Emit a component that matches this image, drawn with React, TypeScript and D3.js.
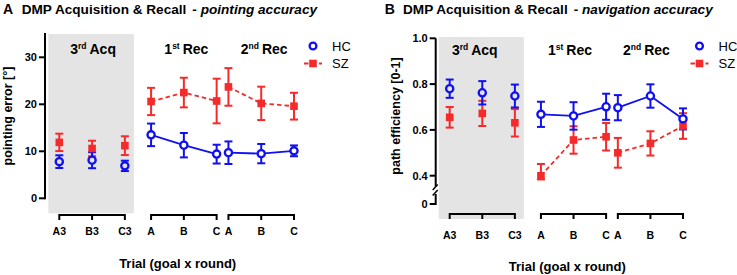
import React from 'react';
import * as d3 from 'd3';

// ---- data ----
const groupNames = ['Acq', 'Rec', 'Rec'];
const groupOrdinals = ['3', '1', '2'];
const groupSuffix = ['rd', 'st', 'nd'];
const trialLabels = ['A3', 'B3', 'C3', 'A', 'B', 'C', 'A', 'B', 'C'];
const trialGroup = [0, 0, 0, 1, 1, 1, 2, 2, 2];

const pointingHC = [7.8, 8.1, 6.9, 13.5, 11.3, 9.4, 9.7, 9.5, 10.1];
const pointingHCErr = [1.35, 1.7, 1.1, 2.4, 2.6, 2.0, 2.4, 2.05, 1.15];
const pointingSZ = [11.9, 10.6, 11.2, 20.6, 22.5, 20.7, 23.7, 20.2, 19.6];
const pointingSZErr = [1.85, 1.65, 2.0, 2.9, 3.15, 4.75, 4.0, 3.55, 2.85];

const navHC = [0.78, 0.762, 0.748, 0.668, 0.661, 0.701, 0.697, 0.748, 0.648];
const navHCErr = [0.04, 0.051, 0.05, 0.055, 0.06, 0.057, 0.055, 0.051, 0.046];
const navSZ = [0.655, 0.672, 0.631, 0.399, 0.556, 0.57, 0.5, 0.541, 0.617];
const navSZErr = [0.045, 0.055, 0.06, 0.052, 0.06, 0.06, 0.065, 0.053, 0.056];

const pointingTicks = [0, 10, 20, 30];
const pointingTickLabels = ['0', '10', '20', '30'];
const navTicks = [0, 0.4, 0.6, 0.8, 1.0];
const navTickLabels = ['0', '0.4', '0.6', '0.8', '1.0'];

// ---- style ----
const BLUE = '#1010f0';
const RED = '#f52a2a';
const GRAY = '#e4e4e4';
const FONT = "'Liberation Sans', Arial, Helvetica, sans-serif";
const groupStart = [0, 2.8, 5.16];

type PanelProps = {
  letter: string;
  letterX: number;
  titleX: number;
  subtitle: string;
  yLabel: string;
  yLabelX: number;
  x0: number;
  x1: number;
  axisX: number;
  y: d3.ScaleLinear<number, number>;
  yTop: number;
  ticks: number[];
  tickLabels: string[];
  hc: number[]; hcErr: number[]; sz: number[]; szErr: number[];
  groupLabelDx: number[];
  groupLabelY: number;
  legendX: number;
  bracketY: number;
  xLabelY: number;
  xTitleY: number;
  broken?: boolean;
};

function Panel(p: PanelProps) {
  const unit = trialLabels.map((_, i) => groupStart[trialGroup[i]] + (i - 3 * trialGroup[i]));
  const x = d3.scaleLinear().domain([0, d3.max(unit) as number]).range([p.x0, p.x1]);
  const xs = unit.map((u) => x(u));
  const y = p.y;
  const bottom = y(0);

  const seg = (vals: number[], g: number) =>
    d3.line<number>().x((_, k) => xs[3 * g + k]).y((v) => y(v))(vals.slice(3 * g, 3 * g + 3)) as string;

  const errBars = (vals: number[], errs: number[], color: string) =>
    vals.map((v, i) => (
      <g key={i} stroke={color} strokeWidth={2}>
        <line x1={xs[i]} x2={xs[i]} y1={y(v - errs[i])} y2={y(v + errs[i])} />
        <line x1={xs[i] - 4} x2={xs[i] + 4} y1={y(v + errs[i])} y2={y(v + errs[i])} />
        <line x1={xs[i] - 4} x2={xs[i] + 4} y1={y(v - errs[i])} y2={y(v - errs[i])} />
      </g>
    ));

  const midX = (p.x0 + p.x1) / 2;

  return (
    <g fontFamily={FONT}>
      {/* title */}
      <text x={p.letterX} y={13.5} fontSize={14} fontWeight="bold">{p.letter}</text>
      <text x={p.titleX} y={13.5} fontSize={13.6} fontWeight="bold">
        DMP Acquisition &amp; Recall
        <tspan dx={6} fontStyle="italic">- {p.subtitle}</tspan>
      </text>

      {/* gray background */}
      <rect x={xs[0] - 11} y={p.yTop} width={xs[2] - xs[0] + 20} height={bottom + 15 - p.yTop} fill={GRAY} />

      {/* y axis */}
      {p.broken ? (
        <g stroke="#000" strokeWidth={2} fill="none">
          <line x1={p.axisX} x2={p.axisX} y1={y(1)} y2={186.5} />
          <line x1={p.axisX} x2={p.axisX} y1={194} y2={bottom + 1} />
          <line x1={p.axisX - 3} x2={p.axisX + 2} y1={190} y2={184.5} strokeWidth={1.5} />
          <line x1={p.axisX - 3} x2={p.axisX + 2} y1={195.5} y2={190} strokeWidth={1.5} />
        </g>
      ) : (
        <line x1={p.axisX} x2={p.axisX} y1={p.yTop - 1} y2={bottom + 1} stroke="#000" strokeWidth={2} />
      )}
      {p.ticks.map((t, i) => (
        <g key={i}>
          <line x1={p.axisX - 6} x2={p.axisX} y1={y(t)} y2={y(t)} stroke="#000" strokeWidth={2} />
          <text x={p.axisX - 8} y={y(t)} dy="0.35em" textAnchor="end" fontSize={11} fontWeight="bold">
            {p.tickLabels[i]}
          </text>
        </g>
      ))}
      <text
        transform={`translate(${p.yLabelX},${116}) rotate(-90)`}
        textAnchor="middle"
        fontSize={12.5}
        fontWeight="bold"
      >
        {p.yLabel}
      </text>

      {/* x brackets */}
      {[0, 1, 2].map((g) => (
        <g key={g} stroke="#000" strokeWidth={2}>
          <line x1={xs[3 * g]} x2={xs[3 * g + 2]} y1={p.bracketY} y2={p.bracketY} />
          {[0, 1, 2].map((k) => (
            <line key={k} x1={xs[3 * g + k]} x2={xs[3 * g + k]} y1={p.bracketY - (k === 1 ? 0 : 1)} y2={p.bracketY + 5} />
          ))}
        </g>
      ))}
      {trialLabels.map((l, i) => (
        <text key={i} x={xs[i]} y={p.xLabelY} dy="0.35em" textAnchor="middle" fontSize={10.5} fontWeight="bold">
          {l}
        </text>
      ))}
      <text x={midX + 1} y={p.xTitleY} textAnchor="middle" fontSize={13} fontWeight="bold">
        Trial (goal x round)
      </text>

      {/* group labels */}
      {[0, 1, 2].map((g) => (
        <text key={g} x={xs[3 * g + 1] + p.groupLabelDx[g]} y={p.groupLabelY} textAnchor="middle" fontSize={14} fontWeight="bold">
          {groupOrdinals[g]}
          <tspan fontSize={8.5} dy={-5}>{groupSuffix[g]}</tspan>
          <tspan dy={5} dx={3}>{groupNames[g]}</tspan>
        </text>
      ))}

      {/* lines */}
      {[1, 2].map((g) => (
        <path key={'hc' + g} d={seg(p.hc, g)} fill="none" stroke={BLUE} strokeWidth={1.8} />
      ))}
      {[1, 2].map((g) => (
        <path key={'sz' + g} d={seg(p.sz, g)} fill="none" stroke={RED} strokeWidth={1.8} strokeDasharray="4.5,3" />
      ))}

      {/* error bars */}
      {errBars(p.sz, p.szErr, RED)}
      {errBars(p.hc, p.hcErr, BLUE)}

      {/* markers */}
      {p.sz.map((v, i) => (
        <rect key={'s' + i} x={xs[i] - 3.8} y={y(v) - 3.8} width={7.6} height={7.6} fill={RED} />
      ))}
      {p.hc.map((v, i) => (
        <circle key={'c' + i} cx={xs[i]} cy={y(v)} r={3.6} fill={i < 3 ? GRAY : '#fff'} stroke={BLUE} strokeWidth={2.3} />
      ))}

      {/* legend */}
      <circle cx={p.legendX} cy={46} r={3.4} fill="#fff" stroke={BLUE} strokeWidth={2.3} />
      <text x={p.legendX + 19} y={46} dy="0.35em" fontSize={13}>HC</text>
      <line x1={p.legendX - 9} x2={p.legendX + 9} y1={63.5} y2={63.5} stroke={RED} strokeWidth={1.8} strokeDasharray="4.5,3" />
      <rect x={p.legendX - 3.8} y={63.5 - 3.8} width={7.6} height={7.6} fill={RED} />
      <text x={p.legendX + 19} y={63.5} dy="0.35em" fontSize={13}>SZ</text>
    </g>
  );
}

export default function App() {
  const yA = d3.scaleLinear().domain([0, 35]).range([198.3, 33.8]);
  const yB = d3.scaleLinear().domain([0, 0.4, 1]).range([204, 175.7, 38.3]);
  return (
    <svg width={737} height={275} style={{ position: 'absolute', left: 0, top: 0, background: '#fff' }}>
      <Panel
        letter="A"
        letterX={3}
        titleX={21.7}
        subtitle="pointing accuracy"
        yLabel="pointing error [°]"
        yLabelX={12}
        x0={59.3}
        x1={294}
        axisX={45}
        y={yA}
        yTop={34}
        ticks={pointingTicks}
        tickLabels={pointingTickLabels}
        hc={pointingHC}
        hcErr={pointingHCErr}
        sz={pointingSZ}
        szErr={pointingSZErr}
        groupLabelDx={[1, 2.5, 3]}
        groupLabelY={54}
        legendX={313}
        bracketY={215}
        xLabelY={231.5}
        xTitleY={268}
      />
      <Panel
        letter="B"
        letterX={384.7}
        titleX={403}
        subtitle="navigation accuracy"
        yLabel="path efficiency [0-1]"
        yLabelX={399.5}
        x0={449.7}
        x1={683}
        axisX={435.7}
        y={yB}
        yTop={37}
        ticks={navTicks}
        tickLabels={navTickLabels}
        hc={navHC}
        hcErr={navHCErr}
        sz={navSZ}
        szErr={navSZErr}
        groupLabelDx={[-7.5, -3.5, -4]}
        groupLabelY={55}
        legendX={699.5}
        bracketY={214}
        xLabelY={235}
        xTitleY={271}
        broken
      />
    </svg>
  );
}
